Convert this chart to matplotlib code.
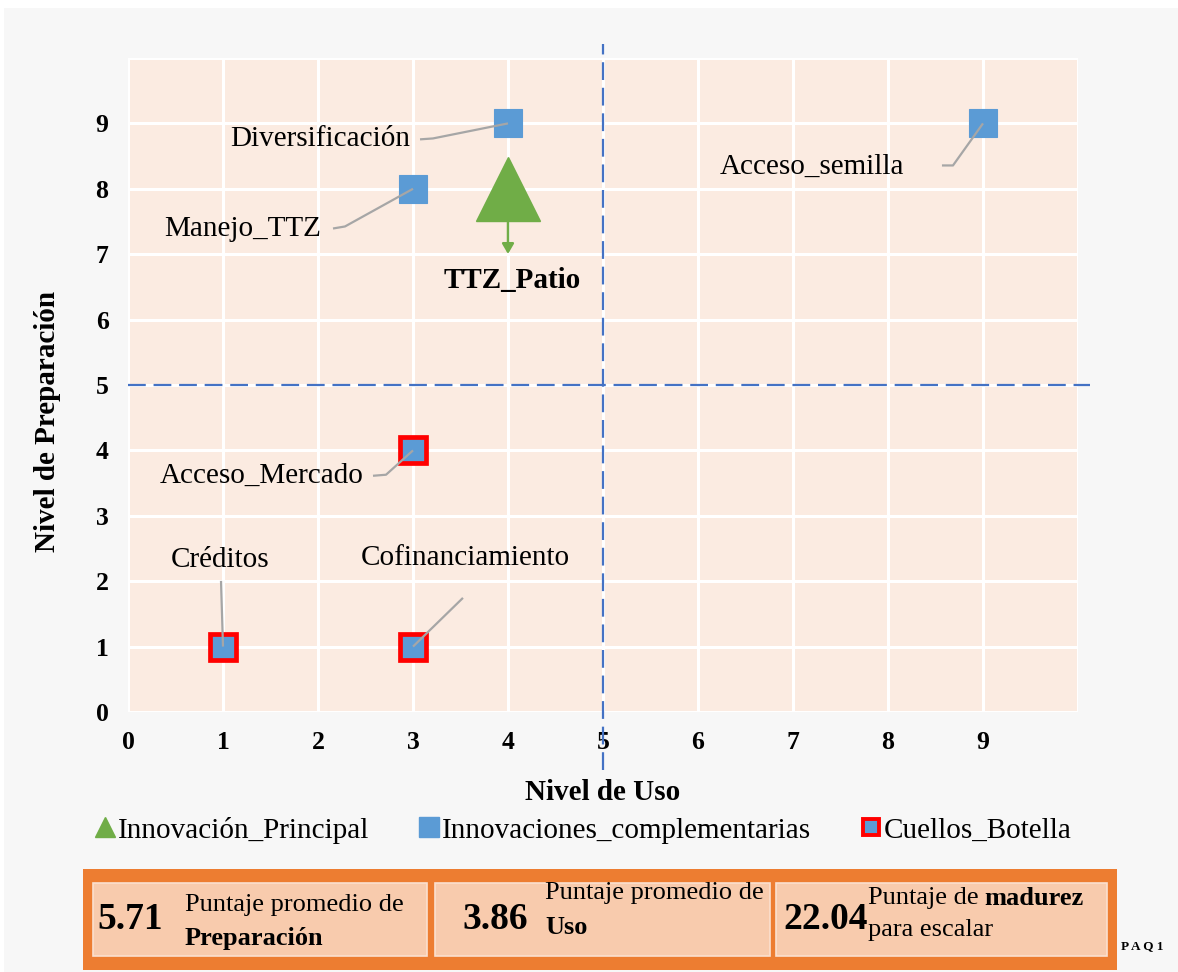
import matplotlib
matplotlib.use("Agg")
import matplotlib.pyplot as plt
from matplotlib.lines import Line2D
from matplotlib.patches import Rectangle

plt.rcParams['font.family'] = ['Liberation Serif', 'DejaVu Serif']

# ---------------- data ----------------
names = ["Diversificación", "Manejo_TTZ", "Acceso_semilla",
         "Acceso_Mercado", "Créditos", "Cofinanciamiento"]
uso = [4, 3, 9, 3, 1, 3]
prep = [9, 8, 9, 4, 1, 1]
cuello = [False, False, False, True, True, True]

main_name = "TTZ_Patio"
main_uso = 4
main_prep = 8

ticks = list(range(0, 10))
score_prep = "5.71"
score_uso = "3.86"
score_mad = "22.04"

# label layout (text centre, leader-line elbow points) in data units
label_pos = [(2.02, 8.76), (1.21, 7.39), (7.2, 8.33),
             (1.41, 3.61), (0.97, 2.33), (3.55, 2.36)]
leader_pts = [[(3.074, 8.756), (3.21, 8.77)],
              [(2.158, 7.393), (2.284, 7.424)],
              [(8.568, 8.357), (8.684, 8.357)],
              [(2.579, 3.612), (2.716, 3.628)],
              [(0.979, 2.005)],
              [(3.526, 1.745)]]

W, H = 1178, 972
fig = plt.figure(figsize=(W / 100, H / 100), dpi=100, facecolor='white')
fig.patches.append(Rectangle((4 / W, 0), 1 - 4 / W, 1 - 8 / H, transform=fig.transFigure,
                             facecolor='#f7f7f7', edgecolor='none', zorder=-10))

ax = fig.add_axes([128 / W, 1 - 712 / H, 950 / W, 654 / H])
ax.set_facecolor('#fbebe1')
ax.set_xlim(0, 10)
ax.set_ylim(0, 10)
ax.set_xticks(list(range(0, 11)))
ax.set_xticklabels([str(t) for t in ticks] + [""])
ax.set_yticks(list(range(0, 11)))
ax.set_yticklabels([str(t) for t in ticks] + [""])
ax.grid(True, color='white', lw=2.2)
ax.set_axisbelow(True)
for s in ax.spines.values():
    s.set_visible(False)
ax.tick_params(length=0, labelsize=18.5, pad=14)
for lab in ax.get_xticklabels() + ax.get_yticklabels():
    lab.set_fontweight('bold')

ax.set_xlabel("Nivel de Uso", fontsize=21, fontweight='bold', labelpad=18)
ax.set_ylabel("Nivel de Preparación", fontsize=21, fontweight='bold')
ax.yaxis.set_label_coords(-0.070, 0.445)

# quadrant lines
dash_color = '#4472c4'
ax.plot([5, 5], [-0.888, 10.21], color=dash_color, lw=1.6, dashes=(8, 3.5),
        clip_on=False, zorder=3)
ax.plot([0, 10.13], [5, 5], color=dash_color, lw=1.6, dashes=(8, 3.5),
        clip_on=False, zorder=3)

blue = '#5b9bd5'
red = '#ff0000'
green = '#70ad47'
grey = '#a6a6a6'

for i in range(len(names)):
    if cuello[i]:
        ax.plot(uso[i], prep[i], marker='s', ms=18.5, mfc=blue, mec=red, mew=3.4,
                ls='none', zorder=4)
    else:
        ax.plot(uso[i], prep[i], marker='s', ms=20, mfc=blue, mec=blue, mew=0.8,
                ls='none', zorder=4)
    pts = leader_pts[i] + [(uso[i], prep[i])]
    ax.plot([p[0] for p in pts], [p[1] for p in pts], color=grey, lw=1.6,
            zorder=5, solid_capstyle='butt')
    ax.text(label_pos[i][0], label_pos[i][1], names[i], fontsize=21,
            ha='center', va='center', zorder=6)

# main innovation
ax.plot(main_uso, main_prep, marker='^', ms=46, mfc=green, mec=green, ls='none', zorder=4)
ax.annotate('', xy=(main_uso, main_prep - 1.04), xytext=(main_uso, main_prep - 0.47),
            arrowprops=dict(arrowstyle='-|>,head_width=0.35,head_length=0.6',
                            color=green, lw=1.8), zorder=5)
ax.text(main_uso + 0.04, main_prep - 1.4, main_name, fontsize=21, fontweight='bold',
        ha='center', va='center', zorder=6)

# legend
handles = [
    Line2D([], [], marker='^', ls='none', ms=14, mfc=green, mec=green),
    Line2D([], [], marker='s', ls='none', ms=15, mfc=blue, mec=blue),
    Line2D([], [], marker='s', ls='none', ms=12, mfc=blue, mec=red, mew=2.8),
]
fig.legend(handles, ["Innovación_Principal", "Innovaciones_complementarias", "Cuellos_Botella"],
           loc='center', bbox_to_anchor=(0.495, 1 - 830 / H), ncol=3, frameon=False,
           fontsize=21, handlelength=0.7, handletextpad=0.1, columnspacing=1.7)

# bottom summary panel
fig.patches.append(Rectangle((83 / W, 1 - 970 / H), 1034 / W, 101 / H, transform=fig.transFigure,
                             facecolor='#ed7d31', edgecolor='none', zorder=1))
for x0, x1 in [(93, 427), (435, 770), (776, 1107)]:
    fig.patches.append(Rectangle((x0 / W, 1 - 956 / H), (x1 - x0) / W, 73 / H,
                                 transform=fig.transFigure, facecolor='#f8cbad',
                                 edgecolor='#fbe0cf', lw=1.2, zorder=2))

def ft(px, py, s, **kw):
    return fig.text(px / W, 1 - py / H, s, va='center', ha='left', zorder=5, **kw)

ft(97, 919, score_prep, fontsize=27, fontweight='bold')
ft(185, 905, "Puntaje promedio de", fontsize=19)
ft(185, 938, "Preparación", fontsize=19, fontweight='bold')

ft(462, 919, score_uso, fontsize=27, fontweight='bold')
ft(545, 893, "Puntaje promedio de", fontsize=19)
ft(545, 927, "Uso", fontsize=19, fontweight='bold')

ft(783, 919, score_mad, fontsize=27, fontweight='bold')
t1 = ft(868, 898, "Puntaje de", fontsize=19)
t2 = ft(868, 898, "madurez", fontsize=19, fontweight='bold')
ft(868, 930, "para escalar", fontsize=19)

ft(1121, 946, "P A Q 1", fontsize=9.5, fontweight='bold')

# position 'madurez' right after 'Puntaje de'
fig.canvas.draw()
r = fig.canvas.get_renderer()
bb = t1.get_window_extent(r)
t2.set_position(((bb.x1 + 6) / W, 1 - 898 / H))

fig.savefig("out.png", dpi=100, facecolor=fig.get_facecolor())
